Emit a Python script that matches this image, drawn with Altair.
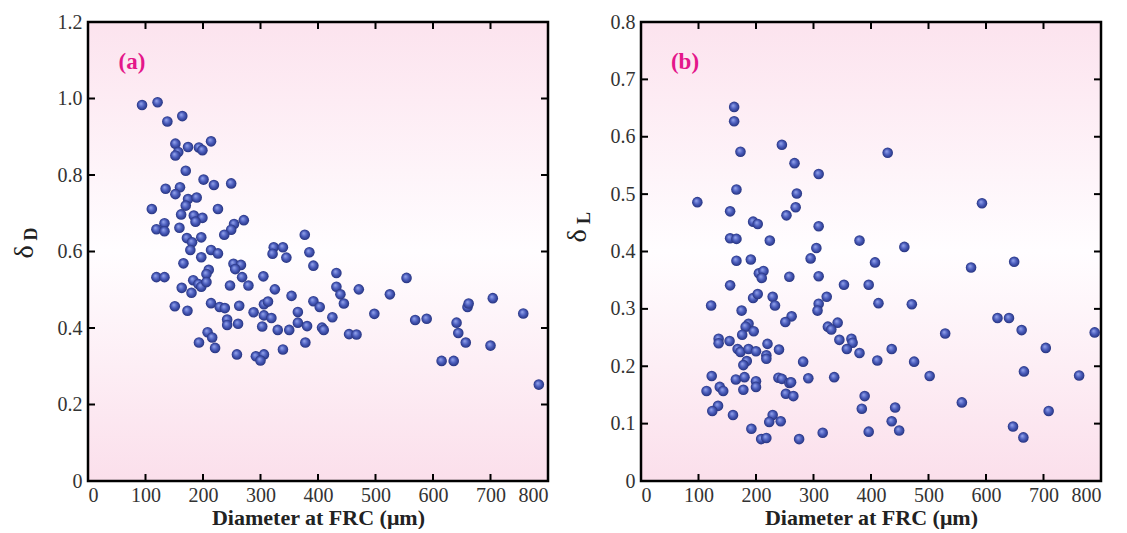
import altair as alt
import pandas as pd

# Panel (a): delta_D vs diameter
a_x = [94,121,138,164,152,174,193,199,214,157,152,170,201,219,249,135,160,152,174,189,
       170,111,226,162,184,199,187,133,119,133,159,254,249,271,237,172,181,197,178,214,
       226,323,339,321,197,166,253,266,256,210,206,119,133,183,268,305,192,197,206,163,
       180,247,279,325,151,173,214,229,238,263,288,306,313,306,319,242,242,261,303,330,
       208,216,193,221,259,292,306,300,377,345,385,392,432,554,354,432,439,471,525,445,
       392,403,365,365,381,350,407,410,425,498,454,467,378,339,569,589,641,644,657,615,
       636,660,662,704,700,757,784]
a_y = [0.983,0.990,0.940,0.954,0.882,0.873,0.872,0.865,0.888,0.860,0.851,0.811,0.788,0.774,0.778,0.764,0.768,0.750,0.737,0.741,
       0.720,0.711,0.711,0.697,0.694,0.688,0.678,0.674,0.658,0.653,0.662,0.672,0.657,0.682,0.644,0.635,0.624,0.637,0.604,0.604,
       0.595,0.611,0.611,0.594,0.585,0.569,0.568,0.565,0.554,0.552,0.541,0.533,0.533,0.525,0.533,0.535,0.515,0.508,0.520,0.505,
       0.492,0.511,0.511,0.501,0.457,0.445,0.465,0.455,0.452,0.458,0.441,0.462,0.469,0.433,0.426,0.422,0.408,0.411,0.404,0.395,
       0.389,0.375,0.362,0.348,0.331,0.326,0.331,0.315,0.644,0.584,0.598,0.563,0.544,0.531,0.484,0.508,0.488,0.501,0.488,0.464,
       0.470,0.455,0.442,0.414,0.405,0.395,0.401,0.395,0.428,0.437,0.384,0.383,0.362,0.344,0.421,0.424,0.414,0.387,0.362,0.314,
       0.314,0.455,0.464,0.478,0.354,0.438,0.252]

# Panel (b): delta_L vs diameter
b_x = [162,162,173,245,267,309,166,98,271,269,253,155,195,203,309,155,166,224,305,295,
       166,191,205,213,210,258,309,380,429,593,458,407,574,649,353,396,413,471,345,366,
       368,358,380,436,411,475,502,529,620,640,662,789,704,666,762,389,384,442,436,396,
       449,558,647,665,709,336,155,195,203,229,233,122,175,323,309,307,262,251,187,182,
       196,176,325,342,331,135,135,154,168,173,187,200,220,240,218,218,184,178,282,123,
       165,180,200,200,239,245,258,261,291,114,137,143,178,252,265,134,124,160,229,223,
       243,192,209,218,275,316]
b_y = [0.652,0.627,0.574,0.586,0.554,0.535,0.508,0.486,0.501,0.477,0.463,0.470,0.452,0.448,0.444,0.423,0.422,0.419,0.406,0.388,
       0.384,0.386,0.362,0.366,0.354,0.356,0.357,0.419,0.572,0.484,0.408,0.381,0.372,0.382,0.342,0.342,0.310,0.308,0.246,0.248,
       0.241,0.230,0.223,0.230,0.210,0.208,0.183,0.257,0.284,0.284,0.263,0.259,0.232,0.191,0.184,0.148,0.126,0.128,0.104,0.086,
       0.088,0.137,0.095,0.076,0.122,0.181,0.341,0.319,0.326,0.321,0.306,0.306,0.297,0.321,0.309,0.297,0.287,0.277,0.274,0.269,
       0.261,0.255,0.269,0.276,0.264,0.248,0.240,0.244,0.230,0.225,0.230,0.226,0.239,0.229,0.219,0.213,0.209,0.202,0.208,0.183,
       0.177,0.181,0.174,0.164,0.180,0.178,0.171,0.172,0.179,0.157,0.164,0.157,0.159,0.152,0.148,0.131,0.122,0.115,0.115,0.103,
       0.104,0.091,0.073,0.075,0.073,0.084]

x_ticks = [100, 200, 300, 400, 500, 600, 700]
a_yticks = [0.2, 0.4, 0.6, 0.8, 1.0]
b_yticks = [0.1, 0.2, 0.3, 0.4, 0.5, 0.6, 0.7]

W, H = 460, 459
FONT = "Liberation Serif"
TICK = 7

ball = alt.RadialGradient(
    gradient="radial",
    stops=[alt.GradientStop(offset=0, color="#9aaaf0"),
           alt.GradientStop(offset=0.55, color="#4a5cbc"),
           alt.GradientStop(offset=1, color="#26337f")],
    x1=0.38, y1=0.35, r1=0, x2=0.5, y2=0.5, r2=0.5)

bg = alt.LinearGradient(
    gradient="linear",
    stops=[alt.GradientStop(offset=0, color="#fce3ee"),
           alt.GradientStop(offset=0.5, color="#fffdff"),
           alt.GradientStop(offset=1, color="#fbdfeb")],
    x1=0, y1=0, x2=0, y2=1)


def panel(xs, ys, ymax, yticks, letter, sub, sub_dy):
    df = pd.DataFrame({"d": xs, "v": ys})
    xsc = alt.Scale(domain=[0, 800], nice=False)
    ysc = alt.Scale(domain=[0, ymax], nice=False)
    xvals = [0, 100, 200, 300, 400, 500, 600, 700, 800]
    yvals = [0] + yticks + [ymax]
    back = alt.Chart(pd.DataFrame({"k": [0]})).mark_rect(
        fill=bg, stroke="black", strokeWidth=2.5).encode(
        x=alt.value(0), x2=alt.value(W), y=alt.value(0), y2=alt.value(H))
    pts = alt.Chart(df).mark_circle(fill=ball, size=112, opacity=1, strokeWidth=0).encode(
        x=alt.X("d:Q", scale=xsc, title="Diameter at FRC (μm)",
                axis=alt.Axis(values=xvals, format="d", ticks=False, domain=False, grid=False,
                              labelFont=FONT, labelFontSize=20, labelColor="#333",
                              labelPadding=4, titleFont=FONT, titleFontSize=22,
                              titleFontWeight="bold", titleColor="#222", titlePadding=2)),
        y=alt.Y("v:Q", scale=ysc, title=None,
                axis=alt.Axis(values=yvals, ticks=False, domain=False, grid=False,
                              labelExpr="datum.value == 0 ? '0' : format(datum.value, '.1f')",
                              labelFont=FONT, labelFontSize=20, labelColor="#333",
                              labelPadding=6)),
    )
    xt = pd.DataFrame({"t": x_ticks})
    yt = pd.DataFrame({"t": yticks})
    tb = alt.Chart(xt).mark_rule(color="black", strokeWidth=2).encode(
        x=alt.X("t:Q", scale=xsc), y=alt.value(H), y2=alt.value(H - TICK))
    tt = alt.Chart(xt).mark_rule(color="black", strokeWidth=2).encode(
        x=alt.X("t:Q", scale=xsc), y=alt.value(0), y2=alt.value(TICK))
    tl = alt.Chart(yt).mark_rule(color="black", strokeWidth=2).encode(
        y=alt.Y("t:Q", scale=ysc), x=alt.value(0), x2=alt.value(TICK))
    tr = alt.Chart(yt).mark_rule(color="black", strokeWidth=2).encode(
        y=alt.Y("t:Q", scale=ysc), x=alt.value(W), x2=alt.value(W - TICK))
    lab = alt.Chart(pd.DataFrame({"s": [letter]})).mark_text(
        font=FONT, fontSize=23, fontWeight="bold", color="#e4168a", align="center", baseline="middle"
    ).encode(text="s:N", x=alt.value(44), y=alt.value(40))
    delta = alt.Chart(pd.DataFrame({"s": ["δ"]})).mark_text(
        font=FONT, fontSize=28, color="#222", angle=270, align="center", baseline="middle"
    ).encode(text="s:N", x=alt.value(-63), y=alt.value(sub_dy + 18))
    subs = alt.Chart(pd.DataFrame({"s": [sub]})).mark_text(
        font=FONT, fontSize=18, fontWeight="bold", color="#222", angle=270, align="center", baseline="middle"
    ).encode(text="s:N", x=alt.value(-56), y=alt.value(sub_dy))
    return alt.layer(back, pts, tb, tt, tl, tr, lab, delta, subs).properties(width=W, height=H)


pa = panel(a_x, a_y, 1.2, a_yticks, "(a)", "D", 212)
pb = panel(b_x, b_y, 0.8, b_yticks, "(b)", "L", 196)

chart = alt.hconcat(pa, pb, spacing=13).properties(
    padding={"left": 2, "top": 3, "right": 0, "bottom": 0}
).configure_view(strokeWidth=0).configure(background="white")

chart.save("out.html", embed_options={"renderer": "svg", "actions": False})
